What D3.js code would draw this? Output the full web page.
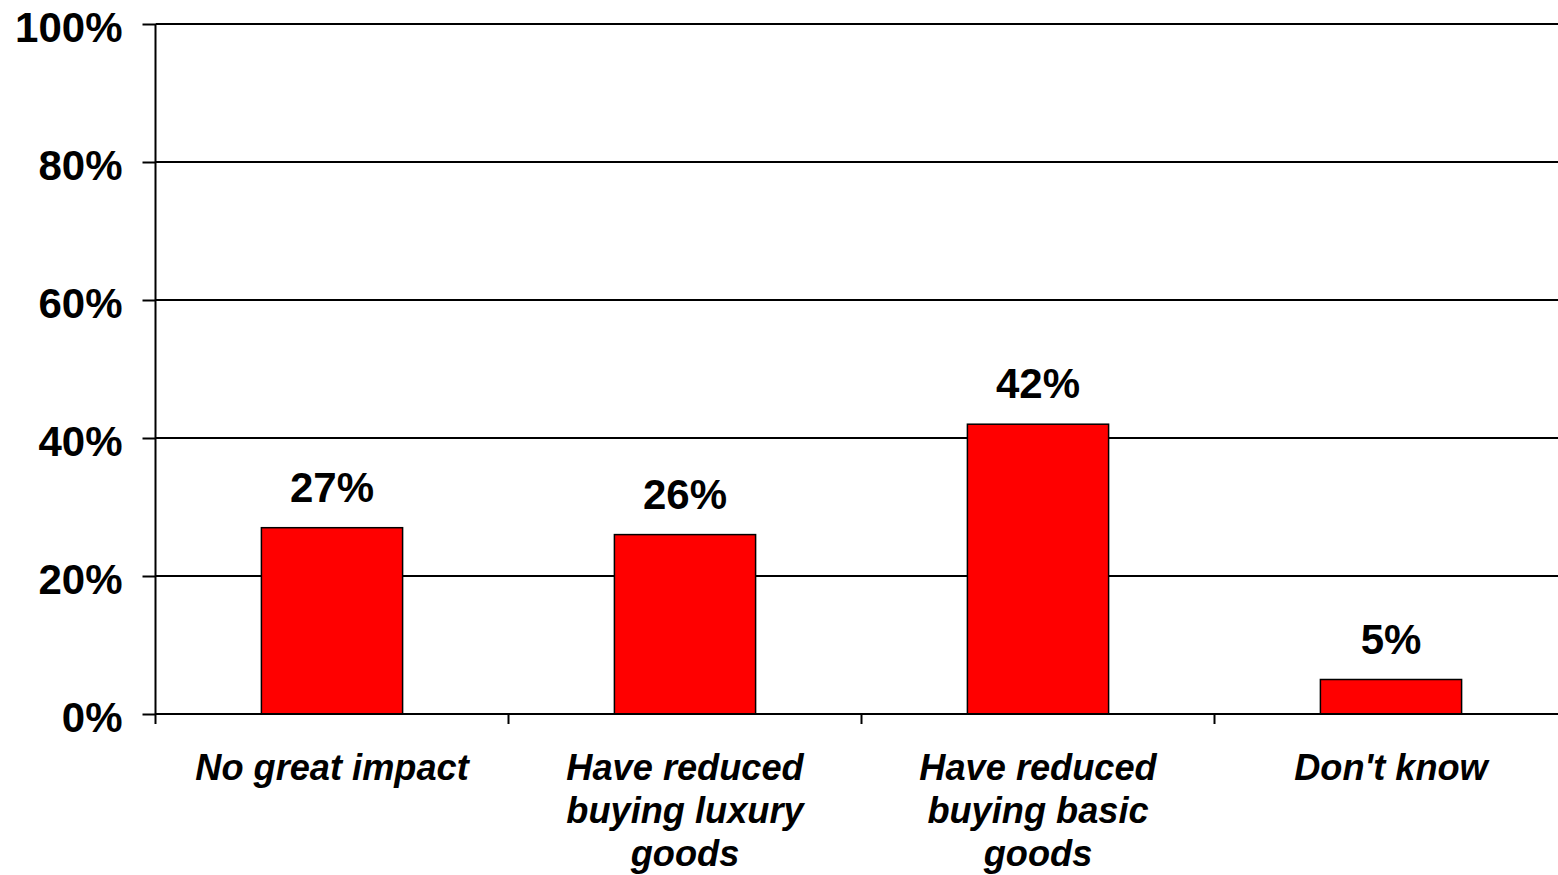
<!DOCTYPE html>
<html><head><meta charset="utf-8">
<script src="https://cdn.jsdelivr.net/npm/d3@7"></script>
<style>body{margin:0;background:#fff}svg{display:block}text{font-family:"Liberation Sans",Arial,sans-serif;font-weight:bold;fill:#000}</style>
</head><body><svg id="c" width="1558" height="875"></svg>
<script>
const categories = ["No great impact", "Have reduced buying luxury goods", "Have reduced buying basic goods", "Don't know"];
const categoryLines = [["No great impact"], ["Have reduced", "buying luxury", "goods"], ["Have reduced", "buying basic", "goods"], ["Don't know"]];
const values = [27, 26, 42, 5];
const valueLabels = ["27%", "26%", "42%", "5%"];
const yTicks = [0, 20, 40, 60, 80, 100];
const yTickLabels = ["0%", "20%", "40%", "60%", "80%", "100%"];

const svg = d3.select("#c");
const x = d3.scaleBand().domain(categories).range([155.5, 1567.5]).paddingInner(0.6).paddingOuter(0.3);
const xb = d3.scaleBand().domain(categories).range([155.5, 1567.5]);
const y = d3.scaleLinear().domain([0, 100]).range([714, 24]);

// gridlines
svg.append("g").selectAll("line").data(yTicks.filter(d => d > 0)).join("line")
  .attr("x1", 155.5).attr("x2", 1558).attr("y1", d => y(d)).attr("y2", d => y(d))
  .attr("stroke", "#000").attr("stroke-width", 2);

// y axis
const ya = svg.append("g").attr("transform", "translate(155.5,0)")
  .call(d3.axisLeft(y).tickValues(yTicks).tickSize(13).tickPadding(20).tickFormat((d, i) => yTickLabels[i]));
ya.select(".domain").attr("stroke", "#000").attr("stroke-width", 2).attr("d", "M0," + y(100) + "V" + y(0));
ya.selectAll(".tick line").attr("stroke", "#000").attr("stroke-width", 2);
ya.selectAll(".tick text").attr("font-size", 42).attr("font-family", "Liberation Sans, Arial, sans-serif").attr("font-weight", "bold").attr("dy", "0.42em");

// bars
svg.append("g").selectAll("rect").data(values).join("rect")
  .attr("x", (d, i) => x(categories[i])).attr("width", x.bandwidth())
  .attr("y", d => y(d)).attr("height", d => y(0) - y(d))
  .attr("fill", "#ff0000").attr("stroke", "#000").attr("stroke-width", 1.5);

// x axis
const xa = svg.append("g").attr("transform", "translate(0,714)")
  .call(d3.axisBottom(xb).tickSize(0).tickFormat(""));
xa.select(".domain").attr("stroke", "#000").attr("stroke-width", 2).attr("d", "M155.5,0H1558");
svg.append("g").selectAll("line").data(categories).join("line")
  .attr("x1", d => xb(d)).attr("x2", d => xb(d)).attr("y1", 714).attr("y2", 724)
  .attr("stroke", "#000").attr("stroke-width", 2);

// value labels
svg.append("g").selectAll("text").data(values).join("text")
  .attr("x", (d, i) => xb(categories[i]) + xb.bandwidth() / 2).attr("y", d => y(d) - 26)
  .attr("text-anchor", "middle").attr("font-size", 42).text((d, i) => valueLabels[i]);

// category labels
const cl = svg.append("g").selectAll("text").data(categoryLines).join("text")
  .attr("x", (d, i) => xb(categories[i]) + xb.bandwidth() / 2).attr("y", 780)
  .attr("text-anchor", "middle").attr("font-size", 36.2).attr("font-style", "italic");
cl.selectAll("tspan").data(d => d).join("tspan")
  .attr("x", function() { return this.parentNode.getAttribute("x"); })
  .attr("dy", (d, i) => i === 0 ? 0 : 43).text(d => d);
</script></body></html>
